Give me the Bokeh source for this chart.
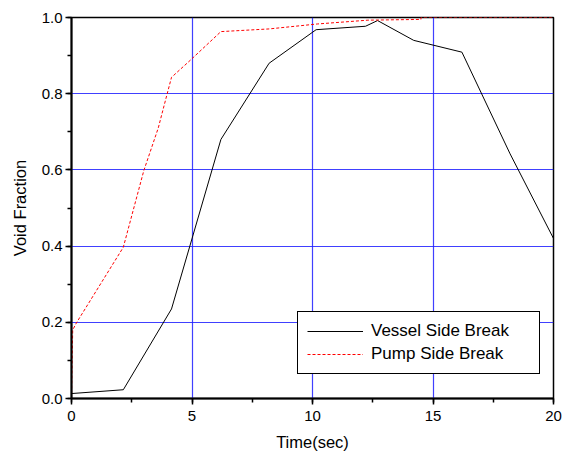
from bokeh.plotting import figure
from bokeh.models import Range1d, SingleIntervalTicker, Legend, LegendItem, CustomJSTickFormatter
from bokeh.embed import file_html
from bokeh.resources import INLINE

# Data
t_vessel = [0.0, 2.15, 4.15, 6.2, 8.2, 10.15, 12.2, 12.7, 14.2, 16.2, 18.2, 20.0]
v_vessel = [0.013, 0.023, 0.235, 0.68, 0.88, 0.968, 0.977, 0.992, 0.94, 0.909, 0.642, 0.42]

t_pump = [0.0, 0.05, 0.2, 2.15, 3.0, 3.6, 3.95, 4.15, 4.95, 6.2, 8.2, 10.2, 12.3, 14.5, 14.5, 20.0]
v_pump = [0.0, 0.18, 0.198, 0.397, 0.598, 0.71, 0.795, 0.843, 0.889, 0.963, 0.97, 0.983, 0.993, 0.995, 1.0, 1.0]

series_names = ["Vessel Side Break", "Pump Side Break"]
x_label = "Time(sec)"
y_label = "Void Fraction"

FONT = "Liberation Sans"

p = figure(width=568, height=461, output_backend="svg", toolbar_location=None,
           x_range=Range1d(0, 20), y_range=Range1d(0, 1.0),
           min_border_left=71, min_border_right=15, min_border_top=17, min_border_bottom=63)

p.background_fill_color = "white"
p.border_fill_color = "white"
p.outline_line_color = "black"
p.outline_line_alpha = 1.0
p.outline_line_width = 1.5

p.xaxis.ticker = SingleIntervalTicker(interval=5, num_minor_ticks=2)
p.yaxis.ticker = SingleIntervalTicker(interval=0.2, num_minor_ticks=2)
p.yaxis.formatter = CustomJSTickFormatter(code="return tick.toFixed(1);")

for ax in (p.xaxis[0], p.yaxis[0]):
    ax.axis_line_color = "black"
    ax.axis_line_width = 2
    ax.major_tick_line_color = "black"
    ax.minor_tick_line_color = "black"
    ax.major_tick_line_width = 1.5
    ax.minor_tick_line_width = 1.5
    ax.major_tick_out = 6
    ax.major_tick_in = 0
    ax.minor_tick_out = 4
    ax.minor_tick_in = 0
    ax.major_label_text_font = FONT
    ax.major_label_text_font_size = "15px"
    ax.major_label_text_color = "black"
    ax.axis_label_text_font = FONT
    ax.axis_label_text_font_size = "16.5px"
    ax.axis_label_text_font_style = "normal"
    ax.axis_label_text_color = "black"

p.xaxis.axis_label = x_label
p.yaxis.axis_label = y_label
p.xaxis.major_label_standoff = 6
p.yaxis.major_label_standoff = 3
p.xaxis.axis_label_standoff = 9
p.yaxis.axis_label_standoff = 10

p.xgrid.grid_line_color = "#1f1fff"
p.ygrid.grid_line_color = "#1f1fff"
p.xgrid.grid_line_width = 1.2
p.ygrid.grid_line_width = 1.2
p.xgrid.grid_line_alpha = 0.85
p.ygrid.grid_line_alpha = 0.85

r1 = p.line(t_vessel, v_vessel, line_color="black", line_width=1)
r2 = p.line(t_pump, v_pump, line_color="red", line_width=1, line_dash="3 2")

legend = Legend(items=[LegendItem(label=series_names[0], renderers=[r1]),
                       LegendItem(label=series_names[1], renderers=[r2])],
                location=(226, 24))
legend.border_line_color = "black"
legend.border_line_alpha = 1.0
legend.border_line_width = 1.5
legend.background_fill_color = "white"
legend.background_fill_alpha = 1.0
legend.label_text_font = FONT
legend.label_text_font_size = "17px"
legend.label_text_color = "black"
legend.glyph_width = 56
legend.glyph_height = 20
legend.label_height = 20
legend.label_standoff = 8
legend.label_width = 159
legend.spacing = 3
legend.padding = 9
legend.margin = 0
p.add_layout(legend, "center")

open("out.html", "w").write(file_html(p, INLINE))
